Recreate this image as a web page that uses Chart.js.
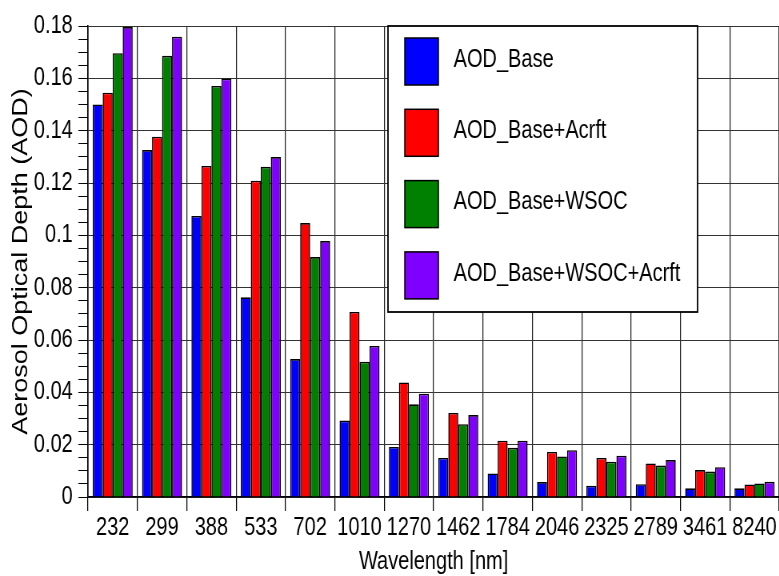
<!DOCTYPE html>
<html>
<head>
<meta charset="utf-8">
<script src="https://cdn.jsdelivr.net/npm/chart.js@4/dist/chart.umd.min.js"></script>
<style>
    html, body { margin: 0; padding: 0; background: #fff; overflow: hidden; }
    /* the original picture is squeezed horizontally, so draw wide and squeeze */
    #chart { display: block; transform: scaleX(0.8); transform-origin: 0 0; }
</style>
</head>
<body>
<canvas id="chart" width="974" height="576"></canvas>
<script>
const wavelengths = ['232', '299', '388', '533', '702', '1010', '1270', '1462', '1784', '2046', '2325', '2789', '3461', '8240'];

const aodBase = [0.150, 0.1326, 0.1074, 0.0763, 0.0527, 0.0292, 0.0191, 0.0149, 0.0090, 0.0057, 0.0043, 0.0049, 0.0033, 0.0033];
const aodBaseAcrft = [0.1545, 0.1377, 0.1265, 0.1209, 0.1047, 0.0707, 0.0438, 0.0321, 0.0215, 0.0172, 0.0149, 0.0128, 0.0103, 0.0048];
const aodBaseWsoc = [0.1696, 0.1686, 0.1571, 0.1262, 0.0917, 0.0517, 0.0354, 0.0278, 0.0188, 0.0155, 0.0135, 0.0120, 0.0097, 0.0052];
const aodBaseWsocAcrft = [0.1796, 0.1759, 0.1599, 0.1299, 0.0978, 0.0577, 0.0395, 0.0313, 0.0215, 0.0179, 0.0158, 0.0141, 0.0114, 0.0058];

const seriesNames = ['AOD_Base', 'AOD_Base+Acrft', 'AOD_Base+WSOC', 'AOD_Base+WSOC+Acrft'];
const seriesColors = ['#0000ff', '#ff0000', '#008000', '#7f00ff'];

const yMax = 0.18;
const yMinorStep = 0.005;

const FONT = "'Liberation Sans', Arial, sans-serif";

// boxed legend drawn over the top of the plot
const boxLegend = {
    id: 'boxLegend',
    afterDraw(chart) {
        const ctx = chart.ctx;
        const x = 485, y = 26, w = 387, h = 286;
        ctx.save();
        ctx.fillStyle = '#fff';
        ctx.fillRect(x, y, w, h);
        ctx.lineWidth = 1.8;
        ctx.strokeStyle = '#000';
        ctx.strokeRect(x, y, w, h);
        ctx.font = '25px ' + FONT;
        ctx.textBaseline = 'middle';
        chart.data.datasets.forEach((ds, i) => {
            const top = 38 + i * 71.3;
            ctx.fillStyle = ds.backgroundColor;
            ctx.fillRect(506, top, 42, 47);
            ctx.lineWidth = 1.5;
            ctx.strokeRect(506, top, 42, 47);
            ctx.fillStyle = '#000';
            ctx.fillText(ds.label, 567, top + 22);
        });
        ctx.restore();
    }
};

const isMajor = (v) => Math.round(v * 1000) % 20 === 0;

new Chart(document.getElementById('chart'), {
    type: 'bar',
    data: {
        labels: wavelengths,
        datasets: [aodBase, aodBaseAcrft, aodBaseWsoc, aodBaseWsocAcrft].map((d, i) => ({
            label: seriesNames[i],
            data: d,
            backgroundColor: seriesColors[i],
            borderColor: '#000',
            borderWidth: 1.6,
            barPercentage: 1.0,
            categoryPercentage: 0.81
        }))
    },
    options: {
        responsive: false,
        animation: false,
        layout: { padding: { top: 26, right: 0, left: 0, bottom: 0 } },
        plugins: {
            legend: { display: false },
            tooltip: { enabled: false }
        },
        scales: {
            x: {
                offset: true,
                grid: { offset: true, color: '#222', tickColor: '#000', tickLength: 14, lineWidth: 1.25 },
                border: { color: '#000', width: 1.6 },
                ticks: { color: '#000', font: { family: FONT, size: 25 }, padding: 2, maxRotation: 0, autoSkip: false },
                title: {
                    display: true,
                    text: 'Wavelength [nm]',
                    color: '#000',
                    font: { family: FONT, size: 25, lineHeight: 1.0 },
                    padding: { top: 0, bottom: 1.5 }
                },
                afterFit(scale) { scale.height = 79; }
            },
            y: {
                min: 0,
                max: yMax,
                afterBuildTicks(scale) {
                    const ticks = [];
                    for (let i = 0; i <= Math.round(yMax / yMinorStep); i++) {
                        ticks.push({ value: +(i * yMinorStep).toFixed(3) });
                    }
                    scale.ticks = ticks;
                },
                grid: {
                    color: (c) => (c.tick && isMajor(c.tick.value)) ? '#333' : 'rgba(0,0,0,0)',
                    tickColor: '#000',
                    tickLength: 12
                },
                border: { color: '#000', width: 1.6 },
                ticks: {
                    autoSkip: false,
                    color: '#000',
                    font: { family: FONT, size: 25 },
                    padding: 7,
                    callback: (v) => isMajor(v) ? String(+v.toFixed(3)) : ''
                },
                title: {
                    display: true,
                    text: 'Aerosol Optical Depth (AOD)',
                    color: '#000',
                    font: { family: FONT, size: 27 },
                    padding: { top: 10, bottom: 0 }
                },
                afterFit(scale) { scale.width = 110; }
            }
        }
    },
    plugins: [boxLegend]
});
</script>
</body>
</html>
